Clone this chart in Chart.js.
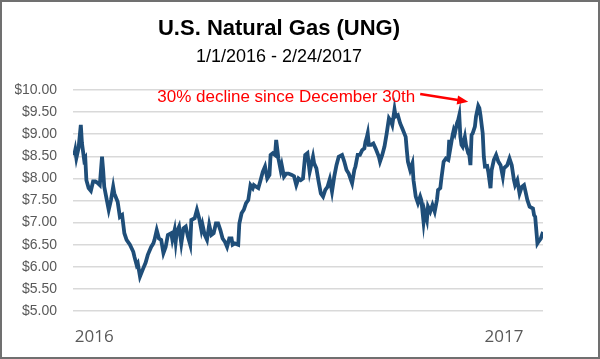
<!DOCTYPE html>
<html>
<head>
<meta charset="utf-8">
<script src="https://cdn.jsdelivr.net/npm/chart.js@4.4.1/dist/chart.umd.min.js"></script>
<style>
    body { margin: 0; background: #fff; }
    #frame { width: 600px; height: 359px; box-sizing: border-box; border: 2px solid #707070; background: #fff; }
    canvas { display: block; }
</style>
</head>
<body>
<div id="frame"><canvas id="gasChart" width="596" height="355"></canvas></div>
<script>
// Days since 1/1/2016 and UNG closing price
const dayIndex = [0, 1, 2, 4, 6, 7, 9, 10, 11, 13, 15, 17, 19, 21, 23, 25, 26, 27, 29, 31,
    33, 35, 36, 39, 41, 43, 45, 47, 50, 53, 54, 56, 57, 59, 62, 64, 66, 69, 71, 72,
    74, 76, 78, 80, 82, 84, 87, 88, 90, 91, 92, 94, 96, 98, 100, 102, 104, 105, 108, 110,
    112, 114, 115, 117, 119, 121, 123, 125, 127, 129, 131, 133, 135, 137, 139, 141, 142, 144, 147, 148,
    150, 152, 154, 156, 158, 160, 161, 163, 165, 167, 169, 171, 173, 175, 176, 178, 180, 181, 183, 185,
    186, 188, 190, 192, 195, 197, 199, 201, 203, 205, 207, 209, 211, 214, 215, 217, 219, 221, 223, 225,
    227, 229, 231, 233, 235, 237, 240, 242, 244, 246, 248, 249, 251, 252, 254, 256, 258, 260, 261, 262,
    263, 264, 266, 268, 270, 273, 274, 276, 278, 280, 282, 284, 285, 287, 288, 290, 292, 294, 297, 298,
    299, 301, 303, 304, 306, 308, 310, 311, 313, 314, 316, 317, 319, 321, 323, 325, 326, 328, 329, 331,
    333, 335, 336, 337, 339, 340, 341, 343, 344, 345, 346, 347, 348, 350, 351, 353, 354, 355, 356, 357,
    359, 360, 362, 363, 364, 366, 367, 368, 370, 371, 373, 374, 376, 378, 380, 382, 384, 385, 388, 390,
    392, 394, 395, 397, 399, 401, 403, 404, 406, 408, 411, 412, 413, 415, 416, 418, 420];
const closePrice = [8.52, 8.64, 8.46, 8.69, 9.21, 8.80, 8.42, 8.46, 7.96, 7.78, 7.72, 7.93, 7.93, 7.90, 7.85, 8.49, 8.19, 7.81, 7.55, 7.29,
    7.51, 7.81, 7.66, 7.47, 7.13, 7.17, 6.76, 6.61, 6.50, 6.34, 6.23, 6.04, 6.08, 5.78, 5.97, 6.09, 6.27, 6.45, 6.53, 6.61,
    6.83, 6.64, 6.61, 6.31, 6.45, 6.72, 6.76, 6.61, 6.83, 6.57, 6.79, 6.91, 6.53, 6.87, 6.91, 6.68, 6.50, 7.06, 7.10, 7.29,
    7.10, 6.83, 6.95, 6.72, 6.61, 6.95, 6.72, 6.76, 6.98, 6.98, 6.83, 6.64, 6.57, 6.45, 6.64, 6.64, 6.50, 6.53, 6.50, 6.98,
    7.21, 7.29, 7.44, 7.51, 7.85, 7.78, 7.85, 7.81, 7.78, 7.96, 8.15, 8.27, 8.00, 8.08, 8.53, 8.57, 8.53, 8.87, 8.45, 8.19,
    8.30, 8.04, 8.11, 8.11, 8.08, 8.05, 7.85, 8.00, 7.96, 8.00, 8.53, 8.57, 8.15, 8.49, 8.34, 8.23, 7.93, 7.66, 7.59, 7.74,
    7.81, 7.98, 7.70, 8.04, 8.30, 8.49, 8.53, 8.38, 8.19, 8.11, 7.96, 7.89, 8.19, 8.27, 8.53, 8.53, 8.64, 8.68, 8.83, 8.91,
    9.02, 8.76, 8.76, 8.79, 8.68, 8.49, 8.38, 8.53, 8.72, 9.02, 9.36, 9.28, 9.21, 9.56, 9.40, 9.43, 9.25, 9.13, 8.94, 8.64,
    8.38, 8.19, 8.34, 7.96, 7.59, 7.44, 7.59, 7.51, 7.02, 7.25, 7.06, 7.36, 7.25, 7.40, 7.25, 7.51, 7.74, 7.78, 8.00, 8.38,
    8.45, 8.42, 8.87, 8.68, 8.98, 9.09, 9.02, 9.25, 9.32, 9.43, 8.94, 8.76, 8.72, 8.94, 8.76, 8.57, 8.53, 8.30, 8.98, 9.02,
    9.17, 9.40, 9.64, 9.59, 9.43, 9.02, 8.49, 8.27, 8.28, 8.15, 7.78, 8.19, 8.42, 8.53, 8.38, 8.30, 8.04, 8.23, 8.30, 8.45,
    8.30, 7.96, 7.85, 7.96, 7.66, 7.81, 7.85, 7.74, 7.51, 7.36, 7.32, 7.17, 7.13, 6.53, 6.57, 6.64, 6.79];

// Year labels and where they sit on the day axis
const yearLabels = ['2016', '2017'];
const yearTickDays = [18, 385];

const annotationText = '30% decline since December 30th';

const fontFamily = '"Liberation Sans", Arial, sans-serif';

// Red note with arrow pointing at the Dec 30 peak
const notePlugin = {
    id: 'declineNote',
    afterDatasetsDraw(chart) {
        const { ctx, scales: { x, y } } = chart;
        ctx.save();
        ctx.fillStyle = '#ff0000';
        ctx.strokeStyle = '#ff0000';
        ctx.font = '17px ' + fontFamily;
        ctx.textAlign = 'center';
        ctx.textBaseline = 'middle';
        ctx.fillText(annotationText, x.getPixelForValue(190), y.getPixelForValue(9.84));

        const x1 = x.getPixelForValue(310), y1 = y.getPixelForValue(9.91);
        const x2 = x.getPixelForValue(353), y2 = y.getPixelForValue(9.735);
        const ang = Math.atan2(y2 - y1, x2 - x1);
        const head = 11;
        ctx.lineWidth = 2.5;
        ctx.beginPath();
        ctx.moveTo(x1, y1);
        ctx.lineTo(x2 - Math.cos(ang) * head * 0.8, y2 - Math.sin(ang) * head * 0.8);
        ctx.stroke();
        ctx.beginPath();
        ctx.moveTo(x2, y2);
        ctx.lineTo(x2 - head * Math.cos(ang) + 4.5 * Math.sin(ang), y2 - head * Math.sin(ang) - 4.5 * Math.cos(ang));
        ctx.lineTo(x2 - head * Math.cos(ang) - 4.5 * Math.sin(ang), y2 - head * Math.sin(ang) + 4.5 * Math.cos(ang));
        ctx.closePath();
        ctx.fill();
        ctx.restore();
    }
};

new Chart(document.getElementById('gasChart'), {
    type: 'line',
    data: {
        datasets: [{
            label: 'UNG',
            data: dayIndex.map((d, i) => ({ x: d, y: closePrice[i] })),
            borderColor: '#1f4e79',
            borderWidth: 3.8,
            pointRadius: 0,
            tension: 0,
            fill: false
        }]
    },
    options: {
        responsive: false,
        animation: false,
        layout: {
            padding: { left: 13, right: 55, top: 0, bottom: 10 }
        },
        plugins: {
            legend: { display: false },
            tooltip: { enabled: false },
            title: {
                display: true,
                text: 'U.S. Natural Gas (UNG)',
                color: '#000',
                font: { family: fontFamily, size: 22, weight: 'bold' },
                padding: { top: 14, bottom: 0 }
            },
            subtitle: {
                display: true,
                text: '1/1/2016 - 2/24/2017',
                color: '#000',
                font: { family: fontFamily, size: 18 },
                padding: { top: 4, bottom: 22 }
            }
        },
        scales: {
            x: {
                type: 'linear',
                min: -1,
                max: 420,
                grid: { display: false, drawTicks: false },
                border: { display: false },
                afterBuildTicks: (scale) => {
                    scale.ticks = yearTickDays.map(v => ({ value: v }));
                },
                afterFit: (scale) => { scale.height = 36; },
                ticks: {
                    color: '#595959',
                    font: { family: '"Open Sans", sans-serif', size: 17 },
                    padding: 16,
                    maxRotation: 0,
                    autoSkip: false,
                    callback: (value) => yearLabels[yearTickDays.indexOf(value)]
                }
            },
            y: {
                min: 5,
                max: 10,
                afterFit: (scale) => { scale.width = 58; },
                grid: { color: '#d9d9d9', lineWidth: 1.5, drawTicks: false },
                border: { display: false },
                ticks: {
                    stepSize: 0.5,
                    autoSkip: false,
                    color: '#595959',
                    font: { family: fontFamily, size: 14 },
                    padding: 16,
                    callback: (value) => '$' + value.toFixed(2)
                }
            }
        }
    },
    plugins: [notePlugin]
});
</script>
</body>
</html>
